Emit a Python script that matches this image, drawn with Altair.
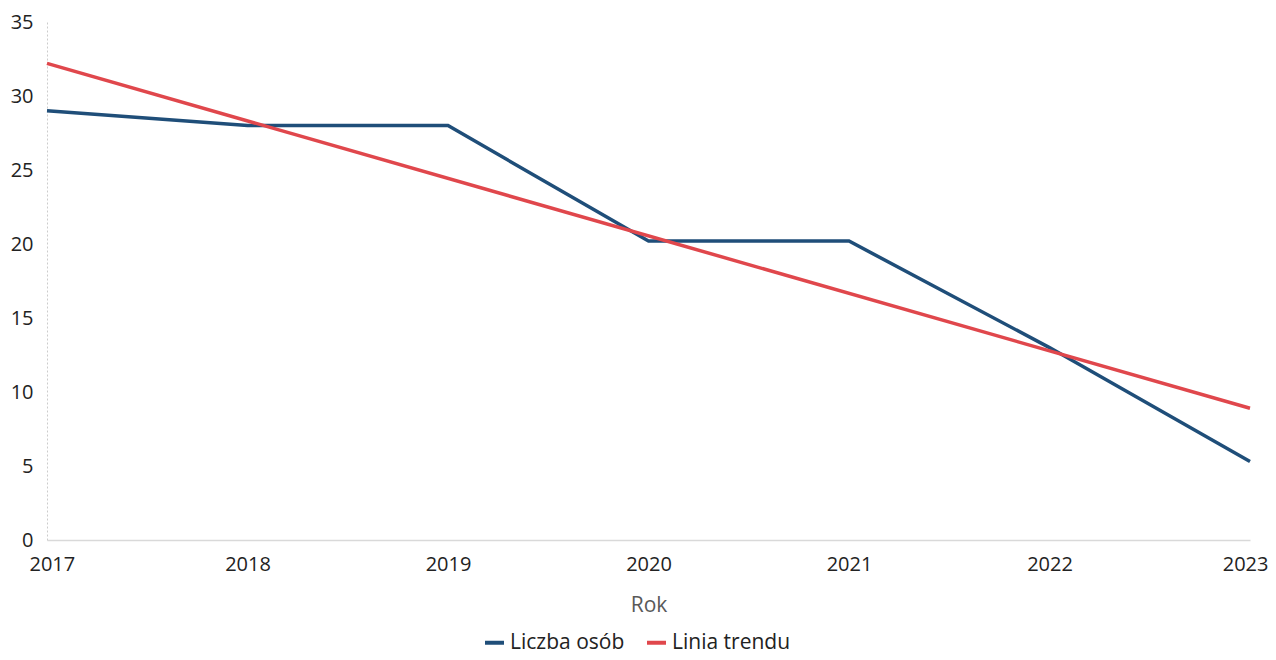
import altair as alt
import pandas as pd

years = [2017, 2018, 2019, 2020, 2021, 2022, 2023]
liczba_osob = [29, 28, 28, 20.2, 20.2, 13, 5.3]
trend_years = [2017, 2023]
trend_values = [32.2, 8.9]

series_names = ["Liczba osób", "Linia trendu"]
series_colors = ["#1f4e79", "#e0474c"]

rows = [{"Rok": y, "Wartość": v, "Seria": series_names[0]} for y, v in zip(years, liczba_osob)]
rows += [{"Rok": y, "Wartość": v, "Seria": series_names[1]} for y, v in zip(trend_years, trend_values)]
df = pd.DataFrame(rows)

FONT = "Open Sans"

chart = alt.Chart(df).mark_line(strokeWidth=3.5).encode(
    x=alt.X("Rok:Q",
            scale=alt.Scale(domain=[2017, 2023], nice=False, zero=False),
            axis=alt.Axis(values=years, format="d", title="Rok", grid=False, ticks=False,
                          labelFlush=True, labelFlushOffset=18,
                          domainColor="#d9d9d9", domainWidth=1.5,
                          labelFontSize=20, labelColor="#222222", labelPadding=14,
                          labelFont=FONT, titleFont=FONT, titleFontSize=21,
                          titleFontWeight="normal", titleColor="#595959", titlePadding=20)),
    y=alt.Y("Wartość:Q",
            scale=alt.Scale(domain=[0, 35], nice=False),
            axis=alt.Axis(values=[0, 5, 10, 15, 20, 25, 30, 35], title=None, grid=False, ticks=False,
                          domainColor="#cccccc", domainDash=[2, 2], domainWidth=1,
                          labelFontSize=20, labelColor="#222222", labelPadding=14, labelFont=FONT)),
    color=alt.Color("Seria:N",
                    scale=alt.Scale(domain=series_names, range=series_colors),
                    legend=alt.Legend(title=None, orient="none", direction="horizontal",
                                      legendX=436, legendY=609,
                                      symbolType="stroke", symbolStrokeWidth=4, symbolSize=360,
                                      labelFontSize=21, labelFont=FONT, labelColor="#222222",
                                      labelOffset=4, columnPadding=14)),
).properties(
    width=1203,
    height=518,
    padding={"left": 39, "top": 14, "right": 18, "bottom": 118},
    autosize=alt.AutoSizeParams(type="none"),
).configure_view(stroke=None)

chart.save("out.html", embed_options={"renderer": "svg", "actions": False})
